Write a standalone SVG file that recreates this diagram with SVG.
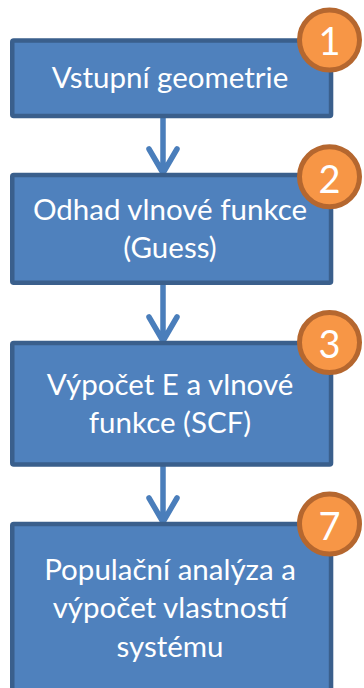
<svg xmlns="http://www.w3.org/2000/svg" width="364" height="688" viewBox="0 0 364 688">
  <defs>
    <style>
      .box { fill: #4F81BD; stroke: #3A5F8C; stroke-width: 4.5; }
      .lbl { fill: #FFFFFF; font-family: "Lato", "Open Sans", sans-serif; font-size: 29.5px; text-anchor: middle; }
      .badge circle { fill: #F79646; stroke: #B5672F; stroke-width: 5; }
      .badge text { fill: #FFFFFF; font-family: "Lato", "Open Sans", sans-serif; font-size: 38px; text-anchor: middle; }
      .conn path { fill: none; stroke: #4A7EBB; stroke-width: 5.5; stroke-linecap: round; stroke-linejoin: round; }
    </style>
  </defs>
  <rect width="364" height="688" fill="#FFFFFF"/>

  <g id="connectors" class="conn">
    <path d="M163 118 V172 M149 149 L163 173 L177 149"/>
    <path d="M163 285 V340 M149 317 L163 341 L177 317"/>
    <path d="M163 466 V521 M149 498 L163 522 L177 498"/>
  </g>

  <g id="node1">
    <rect class="box" x="12.25" y="40.5" width="318.8" height="75.5" rx="1.5"/>
    <text class="lbl" x="170" y="88">Vstupní geometrie</text>
  </g>
  <g id="node2">
    <rect class="box" x="12.25" y="175" width="318.8" height="107.8" rx="1.5"/>
    <text class="lbl" x="170" y="220">Odhad vlnové funkce</text>
    <text class="lbl" x="170" y="258">(Guess)</text>
  </g>
  <g id="node3">
    <rect class="box" x="12.25" y="343" width="318.8" height="121.5" rx="1.5"/>
    <text class="lbl" x="170" y="395">Výpočet E a vlnové</text>
    <text class="lbl" x="170" y="433">funkce (SCF)</text>
  </g>
  <g id="node4">
    <rect class="box" x="12.25" y="524" width="318.8" height="200" rx="1.5"/>
    <text class="lbl" x="170" y="580">Populační analýza a</text>
    <text class="lbl" x="170" y="618">výpočet vlastností</text>
    <text class="lbl" x="170" y="656.5">systému</text>
  </g>

  <g id="badge1" class="badge">
    <circle cx="329.5" cy="40" r="30"/>
    <text x="329.5" y="55">1</text>
  </g>
  <g id="badge2" class="badge">
    <circle cx="329.5" cy="176.7" r="30"/>
    <text x="329.5" y="192.5">2</text>
  </g>
  <g id="badge3" class="badge">
    <circle cx="329.5" cy="342.5" r="30"/>
    <text x="329.5" y="358">3</text>
  </g>
  <g id="badge7" class="badge">
    <circle cx="329.5" cy="524" r="30"/>
    <text x="329.5" y="539.5">7</text>
  </g>
</svg>
